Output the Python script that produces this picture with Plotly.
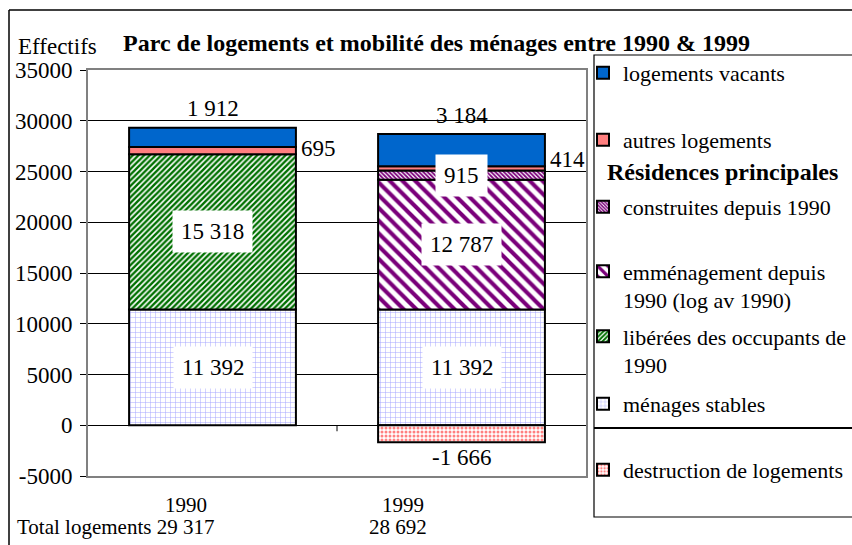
import plotly.graph_objects as go

# ---- data -------------------------------------------------------------
years = ["1990", "1999"]
menages_stables = [11392, 11392]
liberees = [15318, None]
emmenagement = [None, 12787]
construites = [None, 915]
autres = [695, 414]
vacants = [1912, 3184]
destruction = [None, -1666]

y_tick_vals = [-5000, 0, 5000, 10000, 15000, 20000, 25000, 30000, 35000]

# ---- geometry helpers (pixel -> paper) ---------------------------------
W, H = 852, 545
L, R, T, B = 88, 586, 70, 476


def fx(px):
    return (px - L) / (R - L)


def fy(py):
    return (B - py) / (B - T)


def fmt(v):
    return f"{v:,}".replace(",", " ")


FONT = "Liberation Serif"

fig = go.Figure()


def add_bar(name, values, color, fg, shape, size, solidity, legend):
    pattern = dict(shape=shape, fgcolor=fg, bgcolor=color, size=size,
                   solidity=solidity, fgopacity=1,
                   fillmode="replace") if shape else None
    fig.add_trace(go.Bar(
        x=years, y=values, name=name,
        marker=dict(color=color, pattern=pattern,
                    line=dict(color="black", width=2)),
        legend=legend, hoverinfo="name+y",
    ))


# stacked from the bottom up
add_bar("ménages stables", menages_stables, "white", "#A0A0FF", "+", 5, 0.18, "legend6")
add_bar("libérées des occupants de<br>1990", liberees, "white", "#007000", "/", 4, 0.6, "legend5")
add_bar("emménagement depuis<br>1990 (log av 1990)", emmenagement, "white", "#7A007A", "\\", 9, 0.45, "legend4")
add_bar("construites depuis 1990", construites, "white", "#7A007A", "\\", 3, 0.6, "legend3")
add_bar("autres logements", autres, "#FF7F7F", None, None, 0, 0, "legend2")
add_bar("logements vacants", vacants, "#0066CC", None, None, 0, 0, "legend")
add_bar("destruction de logements", destruction, "white", "#FF8080", ".", 4, 0.45, "legend7")

# ---- value labels -------------------------------------------------------
ann = []
text_font = dict(family=FONT, size=23, color="black")


def boxed(i, base, val):
    ann.append(dict(x=i, y=base + val / 2, xref="x", yref="y",
                    xanchor="center", yanchor="middle",
                    text=fmt(val), showarrow=False, font=text_font,
                    bgcolor="white", borderpad=8))


for i, yr in enumerate(years):
    base = 0
    for series in (menages_stables, liberees, emmenagement, construites):
        v = series[i]
        if v is None:
            continue
        boxed(i, base, v)
        base += v
    # autres logements: to the right of the bar
    a = autres[i]
    ann.append(dict(x=i, y=base + a / 2, xref="x", yref="y", text=fmt(a),
                    showarrow=False, font=text_font, xanchor="left",
                    yanchor="middle", xshift=86, yshift=2 if i == 0 else 9))
    base += a
    # logements vacants: above the bar
    ann.append(dict(x=i, y=base + vacants[i], xref="x", yref="y",
                    text=fmt(vacants[i]), showarrow=False, font=text_font,
                    xanchor="center", yanchor="middle", yshift=19))
    if destruction[i] is not None:
        ann.append(dict(x=i, y=destruction[i], xref="x", yref="y",
                        text=fmt(destruction[i]), showarrow=False,
                        font=text_font, xanchor="center", yanchor="middle",
                        yshift=-15))

totals = [sum(v for v in col if v is not None and v > 0)
          for col in zip(menages_stables, liberees, emmenagement,
                         construites, autres, vacants)]

label_font = dict(family=FONT, size=21, color="black")


def paper_text(px, py, text, anchor="center", font=label_font):
    ann.append(dict(x=fx(px), y=fy(py), xref="paper", yref="paper",
                    text=text, xanchor=anchor, yanchor="middle",
                    showarrow=False, font=font))


paper_text(186, 505, years[0])
paper_text(403, 505, years[1])
paper_text(15, 527, f"Total logements {fmt(totals[0])}", "left")
paper_text(398, 527, fmt(totals[1]))
paper_text(16, 47, "Effectifs", "left",
           font=dict(family=FONT, size=23, color="black"))
paper_text(436, 43,
           "<b>Parc de logements et mobilité des ménages entre 1990 &amp; 1999</b>",
           font=dict(family=FONT, size=24, color="black"))
paper_text(605, 172, "<b>Résidences principales</b>", "left",
           font=dict(family=FONT, size=24, color="black"))

# ---- frames and separators ------------------------------------------------
shapes = [
    # outer chart border
    dict(type="line", xref="paper", yref="paper", x0=fx(9), x1=fx(900),
         y0=fy(10), y1=fy(10), line=dict(color="black", width=1.5)),
    dict(type="line", xref="paper", yref="paper", x0=fx(9), x1=fx(9),
         y0=fy(10), y1=fy(600), line=dict(color="black", width=1.5)),
    # legend box
    dict(type="rect", xref="paper", yref="paper", x0=fx(594), x1=fx(900),
         y0=fy(517), y1=fy(55), line=dict(color="black", width=1.2)),
    # legend separator
    dict(type="line", xref="paper", yref="paper", x0=fx(594), x1=fx(900),
         y0=fy(428), y1=fy(428), line=dict(color="black", width=2)),
    # category divider tick on the zero line
    dict(type="line", xref="x", yref="y", x0=0.5, x1=0.5, y0=0, y1=-6,
         ysizemode="pixel", yanchor=0, line=dict(color="black", width=1)),
]

# ---- legends: one per entry so each can sit at its own row ---------------
legend_rows = {
    "legend": 73,
    "legend2": 140,
    "legend3": 207,
    "legend4": 286,
    "legend5": 351,
    "legend6": 404,
    "legend7": 470,
}
legend_font = dict(family=FONT, size=22, color="black")
legend_layout = {}
for key, py in legend_rows.items():
    legend_layout[key] = dict(
        x=fx(583), y=fy(py), xanchor="left", yanchor="middle",
        bgcolor="rgba(0,0,0,0)", borderwidth=0, font=legend_font,
        valign="top", itemclick=False, itemdoubleclick=False,
    )

fig.update_layout(
    width=W, height=H,
    margin=dict(l=L, r=W - R, t=T, b=H - B, autoexpand=False),
    paper_bgcolor="white", plot_bgcolor="white",
    barmode="relative", bargap=0.33,
    font=dict(family=FONT, color="black"),
    showlegend=True,
    annotations=ann, shapes=shapes,
    xaxis=dict(type="category", range=[-0.5, 1.5], showticklabels=False,
               ticks="", showgrid=False, showline=True, mirror=True,
               linecolor="#808080", linewidth=2, zeroline=False,
               fixedrange=True),
    yaxis=dict(range=[-5000, 35000], tickvals=y_tick_vals,
               ticktext=[str(v) for v in y_tick_vals],
               ticks="outside", ticklen=6, tickcolor="black",
               ticklabelstandoff=3,
               tickfont=dict(family=FONT, size=23, color="black"),
               showgrid=True, gridcolor="black", gridwidth=1,
               zeroline=True, zerolinecolor="black", zerolinewidth=1,
               showline=True, mirror=True, linecolor="#808080",
               linewidth=2, fixedrange=True),
    **legend_layout,
)

fig.write_html("out.html")
